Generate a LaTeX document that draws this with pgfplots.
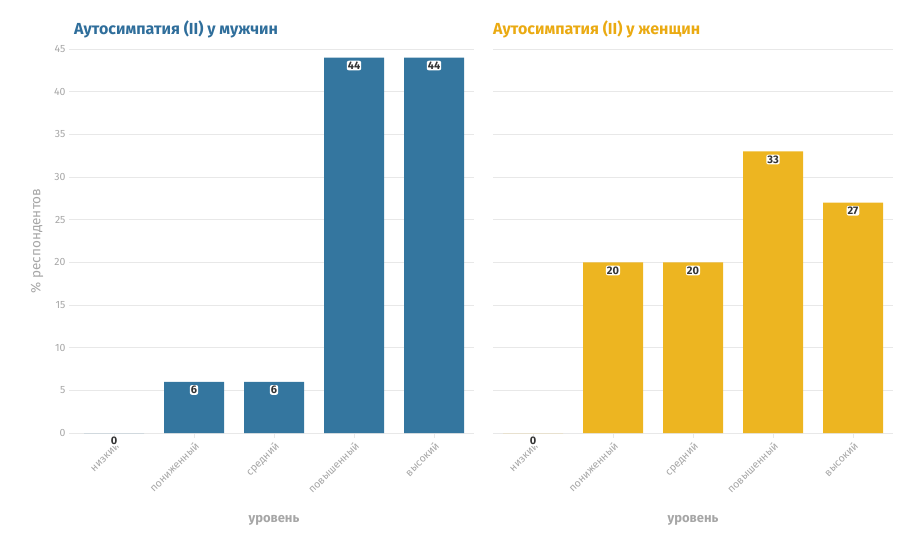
\documentclass[border=0pt]{standalone}
\usepackage{fontspec}
\setmainfont{Fira Sans}
\usepackage{pgfplots}
\pgfplotsset{compat=1.18}
\definecolor{mblue}{HTML}{34769F}
\definecolor{wyel}{HTML}{EDB521}
\definecolor{tblue}{HTML}{2F6E9B}
\definecolor{tyel}{HTML}{EAAA12}
\definecolor{txtgray}{HTML}{A6A6A6}
\definecolor{gridgray}{HTML}{E8E8E8}

\pgfplotsset{
  panel/.style={
    anchor=south west, scale only axis, width=400pt, height=384pt,
    xmin=-0.5, xmax=4.5, ymin=0, ymax=45,
    xtick={0,1,2,3,4},
    xticklabels={низкий,пониженный,средний,повышенный,высокий},
    ytick={0,5,...,45},
    ybar, bar width=60pt,
    separate axis lines,
    axis x line*=bottom, axis y line*=left,
    x axis line style={gridgray, -},
    y axis line style={draw=none},
    ymajorgrids, major grid style={gridgray, line width=0.8pt},
    tick align=outside, major tick length=5pt,
    tick style={gridgray, line width=0.8pt},
    /pgf/number format/assume math mode=true,
    tick label style={font=\fontsize{10.5}{12}\selectfont, text=txtgray},
    x tick label style={rotate=45, anchor=north east, inner sep=2pt},
    xlabel={уровень},
    xlabel style={at={(axis description cs:0.5,-0.227)}, anchor=center,
      font=\bfseries\fontsize{13}{15}\selectfont, text=txtgray},
    nodes near coords,
    every node near coord/.append style={anchor=north, yshift=-3pt,
      font=\bfseries\fontsize{11}{12}\selectfont, text=black!80,
      fill=white, rounded corners=2pt, inner sep=1pt},
  }
}

\begin{document}
\begin{tikzpicture}
\path[use as bounding box] (0,0) rectangle (901pt,-542pt);

\begin{axis}[panel, at={(74pt,-433pt)},
  ylabel={\% респондентов},
  ylabel style={at={(axis description cs:-0.0925,0.5)}, anchor=center,
    font=\fontsize{13.5}{15}\selectfont, text=txtgray}]
\addplot[fill=mblue, draw=none]
  coordinates {(0,0) (1,6) (2,6) (3,44) (4,44)};
\end{axis}

\begin{axis}[panel, at={(493pt,-433pt)}, yticklabels={},
  ytick style={draw=none}]
\addplot[fill=wyel, draw=none]
  coordinates {(0,0) (1,20) (2,20) (3,33) (4,27)};
\end{axis}

\node[anchor=west, text=tblue, font=\bfseries\fontsize{16}{19}\selectfont, inner sep=0pt]
  at (74pt,-29pt) {Аутосимпатия (II) у мужчин};
\node[anchor=west, text=tyel, font=\bfseries\fontsize{16}{19}\selectfont, inner sep=0pt]
  at (493pt,-29pt) {Аутосимпатия (II) у женщин};
\end{tikzpicture}
\end{document}
